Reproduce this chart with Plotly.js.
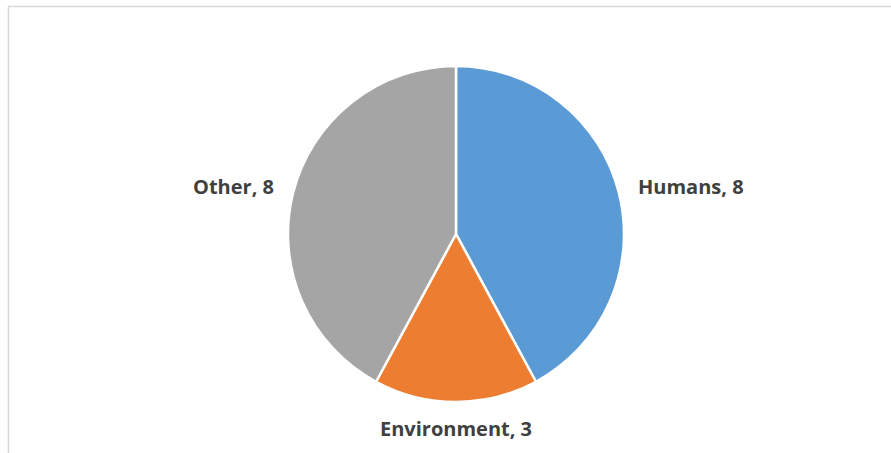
<!DOCTYPE html>
<html>
<head>
<meta charset="utf-8">
<script src="https://cdn.plot.ly/plotly-3.0.1.min.js"></script>
<style>html,body{margin:0;padding:0;background:#fff;}#chart{width:891px;height:453px;}</style>
</head>
<body>
<div id="chart"></div>
<script>
const categories = ["Humans", "Environment", "Other"];
const values = [8, 3, 8];
const colors = ["#5B9BD5", "#ED7D31", "#A5A5A5"];

const W = 891, H = 453;
const cx = 456, cy = 234, R = 168;
const labelRadiusX = 186, labelRadiusY = 194;

const trace = {
  type: "pie",
  labels: categories,
  values: values,
  sort: false,
  direction: "clockwise",
  rotation: 0,
  marker: {colors: colors, line: {color: "#FFFFFF", width: 2.5}},
  textinfo: "none",
  hoverinfo: "none",
  showlegend: false,
  automargin: false,
  domain: {x: [(cx - R) / W, (cx + R) / W], y: [(H - cy - R) / H, (H - cy + R) / H]}
};

// data labels placed outside each slice at its mid-angle
const total = values.reduce((a, b) => a + b, 0);
let acc = 0;
const annotations = categories.map((c, i) => {
  const mid = (acc + values[i] / 2) / total * 2 * Math.PI;
  acc += values[i];
  const s = Math.sin(mid), co = Math.cos(mid);
  const px = cx + labelRadiusX * s, py = cy - labelRadiusY * co;
  return {
    xref: "paper", yref: "paper",
    x: px / W, y: 1 - py / H,
    text: c + ", " + values[i],
    showarrow: false,
    xanchor: s > 0.1 ? "left" : (s < -0.1 ? "right" : "center"),
    yanchor: "middle",
    font: {family: "'Open Sans', sans-serif", size: 20, color: "#404040", weight: "bold"}
  };
});

const layout = {
  width: W, height: H,
  margin: {l: 0, r: 0, t: 0, b: 0},
  paper_bgcolor: "#FFFFFF",
  showlegend: false,
  annotations: annotations,
  shapes: [{
    type: "rect", xref: "paper", yref: "paper",
    x0: 8.5 / W, x1: 1.05, y0: -0.05, y1: 1 - 6.5 / H,
    line: {color: "#D9D9D9", width: 1.5}, fillcolor: "rgba(0,0,0,0)"
  }]
};

Plotly.newPlot("chart", [trace], layout, {displayModeBar: false, staticPlot: true});
</script>
</body>
</html>
